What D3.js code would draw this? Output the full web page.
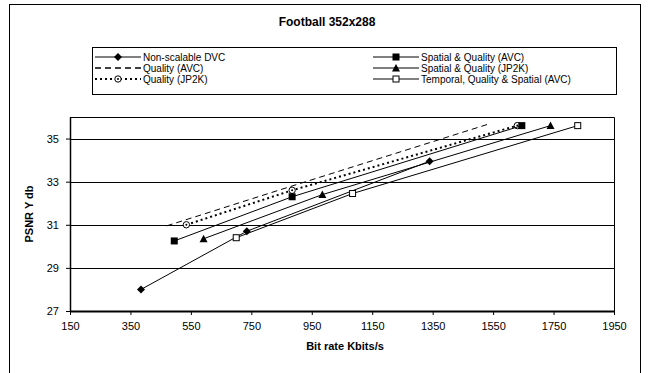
<!DOCTYPE html>
<html>
<head>
<meta charset="utf-8">
<script src="https://cdn.jsdelivr.net/npm/d3@7"></script>
<style>
  body { margin: 0; background: #fff; }
  text { font-family: "Liberation Sans", Arial, sans-serif; fill: #000; }
</style>
</head>
<body>
<div id="chart"></div>
<script>
// bit rate (Kbits/s) and PSNR Y (dB) per configuration
const nonScalableRate = [385, 735, 1340];
const nonScalablePsnr = [28.0, 30.7, 33.95];
const spatialAvcRate = [495, 885, 1645];
const spatialAvcPsnr = [30.25, 32.3, 35.6];
const qualityAvcRate = [470, 885, 1530];
const qualityAvcPsnr = [30.95, 32.8, 35.65];
const spatialJp2kRate = [592, 985, 1740];
const spatialJp2kPsnr = [30.35, 32.4, 35.6];
const qualityJp2kRate = [535, 885, 1630];
const qualityJp2kPsnr = [31.0, 32.6, 35.6];
const temporalRate = [700, 1085, 1830];
const temporalPsnr = [30.4, 32.45, 35.6];

const xTicks = [150, 350, 550, 750, 950, 1150, 1350, 1550, 1750, 1950];
const yTicks = [27, 29, 31, 33, 35];

const series = [
  {name: "Non-scalable DVC", rate: nonScalableRate, psnr: nonScalablePsnr, marker: "diamond", dash: null, col: 0, row: 0},
  {name: "Quality (AVC)", rate: qualityAvcRate, psnr: qualityAvcPsnr, marker: null, dash: "6,4", col: 0, row: 1},
  {name: "Quality (JP2K)", rate: qualityJp2kRate, psnr: qualityJp2kPsnr, marker: "circle", dash: "2,3", col: 0, row: 2},
  {name: "Spatial & Quality (AVC)", rate: spatialAvcRate, psnr: spatialAvcPsnr, marker: "square", dash: null, col: 1, row: 0},
  {name: "Spatial & Quality (JP2K)", rate: spatialJp2kRate, psnr: spatialJp2kPsnr, marker: "triangle", dash: null, col: 1, row: 1},
  {name: "Temporal, Quality & Spatial (AVC)", rate: temporalRate, psnr: temporalPsnr, marker: "opensquare", dash: null, col: 1, row: 2}
];

const W = 649, H = 373;
const plot = {left: 70, right: 614, top: 117, bottom: 311};

const svg = d3.select("#chart").append("svg")
    .attr("width", W)
    .attr("height", H);

// outer chart border
svg.append("rect")
    .attr("x", 9.5).attr("y", 4.5)
    .attr("width", 631).attr("height", 380)
    .attr("fill", "none").attr("stroke", "#000").attr("stroke-width", 1);

svg.append("text")
    .attr("x", 327).attr("y", 26)
    .attr("text-anchor", "middle")
    .style("font-size", "12px").style("font-weight", "bold")
    .text("Football 352x288");

const x = d3.scaleLinear().domain([150, 1950]).range([plot.left, plot.right]);
const y = d3.scaleLinear().domain([27, 36]).range([plot.bottom, plot.top]);

// gridlines
svg.append("g")
  .selectAll("line")
  .data(yTicks.filter(d => d > 27))
  .join("line")
    .attr("x1", plot.left).attr("x2", plot.right)
    .attr("y1", d => Math.round(y(d)) + 0.5).attr("y2", d => Math.round(y(d)) + 0.5)
    .attr("stroke", "#000").attr("stroke-width", 1);

// plot frame top/right
svg.append("path")
    .attr("d", `M${plot.left},${plot.top + 0.5}H${plot.right + 0.5}V${plot.bottom}`)
    .attr("fill", "none").attr("stroke", "#000").attr("stroke-width", 1);

const xAxis = svg.append("g")
    .attr("transform", `translate(0,${plot.bottom})`)
    .call(d3.axisBottom(x).tickValues(xTicks).tickFormat(d3.format("d"))
      .tickSize(4).tickSizeOuter(0).tickPadding(7));
xAxis.select(".domain").attr("stroke-width", 2);
xAxis.selectAll("text").style("font-size", "11px").attr("fill", "#000");

const yAxis = svg.append("g")
    .attr("transform", `translate(${plot.left},0)`)
    .call(d3.axisLeft(y).tickValues(yTicks).tickFormat(d3.format("d"))
      .tickSize(4).tickSizeOuter(0).tickPadding(7));
yAxis.select(".domain").attr("stroke-width", 1.5);
yAxis.selectAll("text").style("font-size", "11px").attr("fill", "#000");

svg.append("text")
    .attr("x", 345).attr("y", 350)
    .attr("text-anchor", "middle")
    .style("font-size", "11px").style("font-weight", "bold")
    .text("Bit rate Kbits/s");

svg.append("text")
    .attr("transform", `translate(33,${(plot.top + plot.bottom) / 2}) rotate(-90)`)
    .attr("text-anchor", "middle")
    .style("font-size", "11px").style("font-weight", "bold")
    .text("PSNR Y db");

function drawMarker(g, type, cx, cy) {
  if (type === "diamond") {
    g.append("path").attr("d", "M0,-4L4,0L0,4L-4,0Z")
      .attr("transform", `translate(${cx},${cy})`).attr("fill", "#000");
  } else if (type === "square") {
    g.append("rect").attr("x", cx - 3.5).attr("y", cy - 3.5).attr("width", 7).attr("height", 7).attr("fill", "#000");
  } else if (type === "triangle") {
    g.append("path").attr("d", "M0,-4L4,3.5L-4,3.5Z")
      .attr("transform", `translate(${cx},${cy})`).attr("fill", "#000");
  } else if (type === "opensquare") {
    g.append("rect").attr("x", cx - 3).attr("y", cy - 3).attr("width", 6).attr("height", 6)
      .attr("fill", "#fff").attr("stroke", "#000").attr("stroke-width", 1);
  } else if (type === "circle") {
    g.append("circle").attr("cx", cx).attr("cy", cy).attr("r", 3.2)
      .attr("fill", "#fff").attr("stroke", "#000").attr("stroke-width", 1);
    g.append("circle").attr("cx", cx).attr("cy", cy).attr("r", 1).attr("fill", "#000");
  }
}

const line = d3.line().x(d => x(d[0])).y(d => y(d[1]));

series.forEach(s => {
  const pts = s.rate.map((r, i) => [r, s.psnr[i]]);
  const g = svg.append("g");
  g.append("path")
    .datum(pts)
    .attr("d", line)
    .attr("fill", "none")
    .attr("stroke", "#000")
    .attr("stroke-width", s.dash === "2,3" ? 2 : 1)
    .attr("stroke-dasharray", s.dash);
  if (s.marker) pts.forEach(p => drawMarker(g, s.marker, x(p[0]), y(p[1])));
});

// legend
const legend = svg.append("g");
legend.append("rect")
    .attr("x", 92.5).attr("y", 47.5).attr("width", 524).attr("height", 47)
    .attr("fill", "#fff").attr("stroke", "#000").attr("stroke-width", 1);

const colX = [95, 373];
series.forEach(s => {
  const lx = colX[s.col], ly = 57 + s.row * 11;
  legend.append("line")
    .attr("x1", lx).attr("x2", lx + 46).attr("y1", ly).attr("y2", ly)
    .attr("stroke", "#000")
    .attr("stroke-width", s.dash === "2,3" ? 2 : s.dash ? 1.5 : 1)
    .attr("stroke-dasharray", s.dash);
  if (s.marker) drawMarker(legend, s.marker, lx + 23, ly);
  legend.append("text")
    .attr("x", lx + 48).attr("y", ly + 3.5)
    .style("font-size", "10px")
    .text(s.name);
});
</script>
</body>
</html>
